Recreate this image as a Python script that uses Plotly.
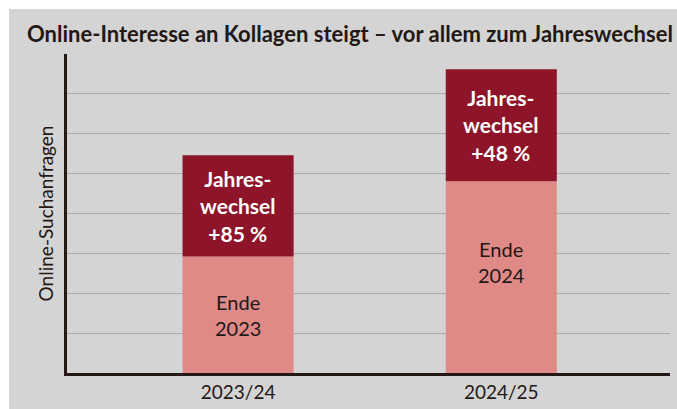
import plotly.graph_objects as go

categories = ["2023/24", "2024/25"]
ende_values = [2.92, 4.81]
wechsel_values = [2.54, 2.81]
ende_labels = ["Ende<br>2023", "Ende<br>2024"]
wechsel_labels = ["Jahres-<br>wechsel<br>+85 %", "Jahres-<br>wechsel<br>+48 %"]
title_text = "Online-Interesse an Kollagen steigt – vor allem zum Jahreswechsel"
y_title = "Online-Suchanfragen"

FONT = "Lato"
DARK = "#231815"
GRAY = "#d4d4d4"
C_LIGHT = "#e08a87"
C_DARK = "#8d1429"

fig = go.Figure()
fig.add_trace(go.Bar(x=categories, y=ende_values, marker=dict(color=C_LIGHT, line=dict(width=0)),
                     width=0.422, hoverinfo="skip"))
fig.add_trace(go.Bar(x=categories, y=wechsel_values, base=ende_values,
                     marker=dict(color=C_DARK, line=dict(width=0)),
                     width=0.422, hoverinfo="skip"))

annotations = []
shifts = [0, 15]
for i, c in enumerate(categories):
    annotations.append(dict(x=c, y=ende_values[i] / 2, text=ende_labels[i], showarrow=False,
                            yshift=shifts[i],
                            font=dict(family=FONT, size=20, color=DARK)))
    annotations.append(dict(x=c, y=ende_values[i] + wechsel_values[i] / 2, text=wechsel_labels[i],
                            showarrow=False,
                            font=dict(family=FONT, size=21, color="white", weight="bold")))
annotations.append(dict(xref="paper", yref="paper", x=-0.035, y=0.5, text=y_title, textangle=-90,
                        showarrow=False, xanchor="center", yanchor="middle",
                        font=dict(family=FONT, size=19, color=DARK)))
annotations.append(dict(xref="paper", yref="paper", x=(350 - 67) / 603, y=1 + (54 - 33) / 319.5,
                        text=title_text, showarrow=False, xanchor="center", yanchor="middle",
                        font=dict(family=FONT, size=22, color=DARK, weight="bold")))

shapes = [
    dict(type="rect", xref="paper", yref="paper", x0=-67 / 603, x1=(677 - 67) / 603,
         y0=1 + 54 / 319.5, y1=1 + (54 - 9) / 319.5, fillcolor="white", line=dict(width=0), layer="below"),
    dict(type="rect", xref="paper", yref="paper", x0=-67 / 603, x1=-58 / 603,
         y0=-40 / 319.5, y1=1 + 60 / 319.5, fillcolor="white", line=dict(width=0), layer="below"),
]

fig.update_layout(
    width=677, height=409,
    margin=dict(l=67, r=7, t=54, b=35.5),
    paper_bgcolor=GRAY, plot_bgcolor=GRAY,
    barmode="overlay", showlegend=False,
    annotations=annotations, shapes=shapes,
    xaxis=dict(range=[-0.65, 1.641], showline=True, linecolor=DARK, linewidth=2.5,
               ticks="", showgrid=False, tickfont=dict(family=FONT, size=19, color=DARK)),
    yaxis=dict(range=[0, 8], showline=True, linecolor=DARK, linewidth=2.5,
               tickvals=[1, 2, 3, 4, 5, 6, 7], showticklabels=False, ticks="",
               showgrid=True, gridcolor="#a9a9a9", gridwidth=1.3, zeroline=False),
)

fig.write_html("out.html")
